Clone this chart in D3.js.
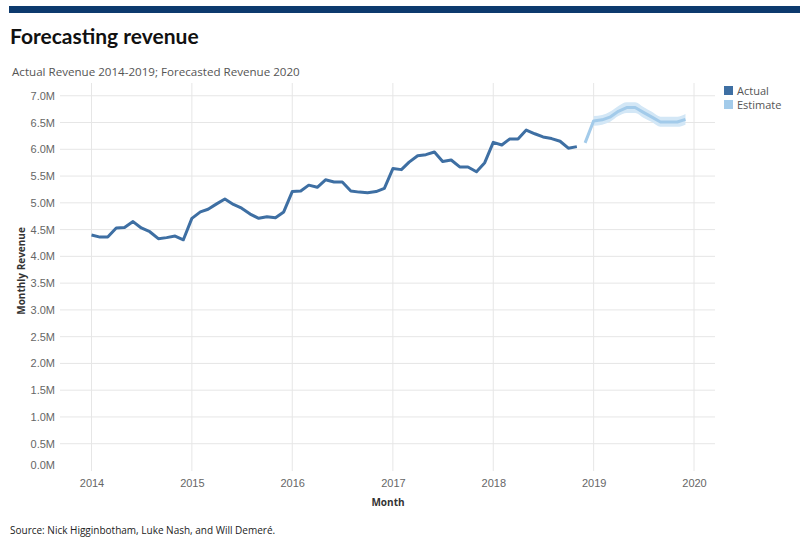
<!DOCTYPE html>
<html>
<head>
<meta charset="utf-8">
<script src="https://cdn.jsdelivr.net/npm/d3@7"></script>
<style>
  body { margin: 0; background: #fff; }
  svg { display: block; font-family: 'Open Sans', 'Noto Sans', sans-serif; }
  .grid line { stroke: #e6e6e6; stroke-width: 1; }
  .axis text { fill: #666; font-size: 11px; }
  .axis path, .axis line { display: none; }
</style>
</head>
<body>
<div id="chart"></div>
<script>
// monthly revenue in millions, Jan 2014 .. Nov 2018
let actualValues = [
  4.40, 4.36, 4.36, 4.53, 4.54, 4.65, 4.53, 4.46, 4.33, 4.35, 4.38, 4.31,
  4.71, 4.83, 4.88, 4.98, 5.07, 4.97, 4.90, 4.79, 4.71, 4.74, 4.72, 4.83,
  5.21, 5.22, 5.33, 5.29, 5.43, 5.39, 5.39, 5.22, 5.20, 5.19, 5.21, 5.27,
  5.64, 5.62, 5.76, 5.88, 5.90, 5.95, 5.77, 5.80, 5.67, 5.67, 5.58, 5.75,
  6.13, 6.08, 6.19, 6.19, 6.36, 6.29, 6.23, 6.20, 6.15, 6.02, 6.05
]
let actualStart = [2014, 0]

// forecast, Dec 2018 .. Dec 2019
let estimateValues = [6.12, 6.53, 6.55, 6.60, 6.71, 6.78, 6.78, 6.69, 6.60, 6.51, 6.51, 6.51, 6.56]
let estimateStart = [2018, 11]

// prediction band, Jan 2019 .. Dec 2019
let bandLow = [6.44, 6.46, 6.51, 6.62, 6.68, 6.68, 6.59, 6.51, 6.42, 6.42, 6.42, 6.46]
let bandHigh = [6.62, 6.64, 6.70, 6.81, 6.88, 6.88, 6.79, 6.70, 6.61, 6.61, 6.61, 6.66]
let bandStart = [2019, 0]

let yearTicks = [2014, 2015, 2016, 2017, 2018, 2019, 2020]
let revenueTicks = [0, 0.5, 1, 1.5, 2, 2.5, 3, 3.5, 4, 4.5, 5, 5.5, 6, 6.5, 7]

let legendItems = [
  { label: 'Actual', color: '#3e6fa3' },
  { label: 'Estimate', color: '#a3cbea' }
]

let width = 800
let height = 543
let plot = { left: 60, right: 715, top: 83, bottom: 471 }

function monthSeries (start, values) {
  return values.map(function (v, i) {
    return { date: new Date(start[0], start[1] + i, 1), value: v }
  })
}

let actual = monthSeries(actualStart, actualValues)
let estimate = monthSeries(estimateStart, estimateValues)
let band = bandLow.map(function (v, i) {
  return { date: new Date(bandStart[0], bandStart[1] + i, 1), low: v, high: bandHigh[i] }
})

let xScale = d3.scaleTime()
  .domain([new Date(2014, 0, 1), new Date(2020, 0, 1)])
  .range([91.5, 694])

let yScale = d3.scaleLinear()
  .domain([0, 7])
  .range([470.5, 95.75])

function translation (x, y) {
  return 'translate(' + x + ',' + y + ')'
}

let svg = d3.select('#chart').append('svg')
  .attr('width', width)
  .attr('height', height)

// header
svg.append('rect')
  .attr('x', 9).attr('y', 6)
  .attr('width', width - 9).attr('height', 7)
  .attr('fill', '#0d3a6e')

svg.append('text')
  .attr('x', 10).attr('y', 44)
  .attr('font-family', 'Lato, sans-serif')
  .attr('font-size', '21px')
  .attr('font-weight', 'bold')
  .attr('fill', '#111')
  .text('Forecasting revenue')

svg.append('text')
  .attr('x', 12).attr('y', 76)
  .attr('font-size', '11.6px')
  .attr('fill', '#555')
  .text('Actual Revenue 2014-2019; Forecasted Revenue 2020')

// GRID
let grid = svg.append('g').attr('class', 'grid')
grid.selectAll('.hgrid')
  .data(revenueTicks.filter(function (d) { return d > 0 }))
  .enter().append('line')
  .attr('class', 'hgrid')
  .attr('x1', plot.left).attr('x2', plot.right)
  .attr('y1', function (d) { return yScale(d) })
  .attr('y2', function (d) { return yScale(d) })

grid.selectAll('.vgrid')
  .data(yearTicks)
  .enter().append('line')
  .attr('class', 'vgrid')
  .attr('x1', function (d) { return xScale(new Date(d, 0, 1)) })
  .attr('x2', function (d) { return xScale(new Date(d, 0, 1)) })
  .attr('y1', plot.top).attr('y2', plot.bottom)

// AXES
let yAxis = d3.axisLeft(yScale)
  .tickValues(revenueTicks)
  .tickFormat(function (d) { return d3.format('.1f')(d) + 'M' })
  .tickSize(0)
  .tickPadding(5)
svg.append('g')
  .attr('class', 'axis y')
  .attr('transform', translation(plot.left, 0))
  .call(yAxis)
  .selectAll('text')
  .attr('dy', function (d) { return d === 0 ? '-0.2em' : '0.32em' })

let xAxis = d3.axisBottom(xScale)
  .tickValues(yearTicks.map(function (d) { return new Date(d, 0, 1) }))
  .tickFormat(d3.timeFormat('%Y'))
  .tickSize(0)
  .tickPadding(8)
svg.append('g')
  .attr('class', 'axis x')
  .attr('transform', translation(0, plot.bottom))
  .call(xAxis)

svg.append('text')
  .attr('x', 388).attr('y', 506)
  .attr('text-anchor', 'middle')
  .attr('font-size', '10px')
  .attr('font-weight', 'bold')
  .attr('fill', '#333')
  .text('Month')

svg.append('text')
  .attr('transform', translation(25, 271) + ' rotate(-90)')
  .attr('text-anchor', 'middle')
  .attr('font-size', '10px')
  .attr('font-weight', 'bold')
  .attr('fill', '#333')
  .text('Monthly Revenue')

// BAND + LINES
let area = d3.area()
  .x(function (d) { return xScale(d.date) })
  .y0(function (d) { return yScale(d.low) })
  .y1(function (d) { return yScale(d.high) })
  .curve(d3.curveMonotoneX)

svg.append('path')
  .datum(band)
  .attr('d', area)
  .attr('fill', '#d3e7f6')

let line = d3.line()
  .x(function (d) { return xScale(d.date) })
  .y(function (d) { return yScale(d.value) })

svg.append('path')
  .datum(actual)
  .attr('d', line)
  .attr('fill', 'none')
  .attr('stroke', legendItems[0].color)
  .attr('stroke-width', 3)
  .attr('stroke-linejoin', 'round')

svg.append('path')
  .datum(estimate)
  .attr('d', line)
  .attr('fill', 'none')
  .attr('stroke', legendItems[1].color)
  .attr('stroke-width', 3)
  .attr('stroke-linejoin', 'round')

// LEGEND
let legend = svg.append('g')
  .attr('transform', translation(724, 86))
let item = legend.selectAll('g')
  .data(legendItems)
  .enter().append('g')
  .attr('transform', function (d, i) { return translation(0, i * 14) })
item.append('rect')
  .attr('width', 9).attr('height', 9)
  .attr('fill', function (d) { return d.color })
item.append('text')
  .attr('x', 13).attr('y', 8.5)
  .attr('font-size', '11px')
  .attr('fill', '#555')
  .text(function (d) { return d.label })

// SOURCE
svg.append('text')
  .attr('x', 10).attr('y', 534)
  .attr('font-size', '10px')
  .attr('fill', '#222')
  .text('Source: Nick Higginbotham, Luke Nash, and Will Demeré.')
</script>
</body>
</html>
